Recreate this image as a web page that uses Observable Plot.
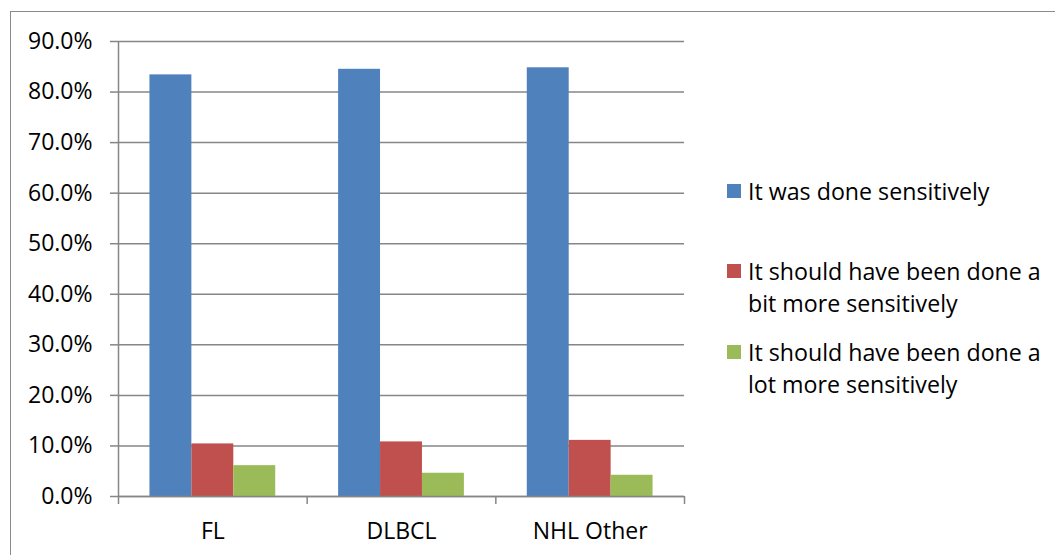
<!DOCTYPE html>
<html>
<head>
<meta charset="utf-8">
<script src="https://cdn.jsdelivr.net/npm/d3@7"></script>
<script src="https://cdn.jsdelivr.net/npm/@observablehq/plot@0.6"></script>
<style>
  html, body { margin: 0; padding: 0; background: #fff; }
  #wrap { position: relative; width: 1055px; height: 555px; overflow: hidden; font-family: "Open Sans", sans-serif; }
  #frame { position: absolute; left: 10px; top: 11px; right: -5px; bottom: -5px; border-top: 1.5px solid #8a8a8a; border-left: 1.5px solid #8a8a8a; }
  #chart { position: absolute; left: 0; top: 0; }
  #legend { position: absolute; left: 727px; top: 175px; font-size: 23.2px; line-height: 32px; color: #000; }
  .item { display: flex; align-items: flex-start; }
  .sw { width: 14px; height: 14px; margin-top: 9px; margin-right: 7px; flex: none; }
  .txt { width: 305px; }
</style>
</head>
<body>
<div id="wrap">
  <div id="frame"></div>
  <div id="chart"></div>
  <div id="legend"></div>
</div>
<script>
const categories = ["FL", "DLBCL", "NHL Other"];
const seriesNames = [
  "It was done sensitively",
  "It should have been done a bit more sensitively",
  "It should have been done a lot more sensitively"
];
const doneSensitively = [0.834, 0.845, 0.848];
const bitMoreSensitively = [0.104, 0.108, 0.111];
const lotMoreSensitively = [0.061, 0.046, 0.042];
const seriesColors = ["#4F81BD", "#C0504D", "#9BBB59"];
const yTicks = [0, 0.1, 0.2, 0.3, 0.4, 0.5, 0.6, 0.7, 0.8, 0.9];

const seriesValues = [doneSensitively, bitMoreSensitively, lotMoreSensitively];
const barW = 2 / 9; // Excel gap width 150%
const rows = [];
categories.forEach((c, ci) => {
  seriesNames.forEach((s, si) => {
    const x1 = ci + 0.75 * barW + si * barW;
    rows.push({category: c, series: s, value: seriesValues[si][ci], x1, x2: x1 + barW});
  });
});
const boundaries = d3.range(categories.length + 1);
const centers = categories.map((c, i) => i + 0.5);
const gray = "#868686";

const chart = Plot.plot({
  width: 1055,
  height: 555,
  marginLeft: 118,
  marginRight: 371,
  marginTop: 41,
  marginBottom: 59,
  style: {fontFamily: "'Open Sans', sans-serif", fontSize: "23px", color: "#000", background: "transparent", overflow: "visible"},
  x: {type: "linear", domain: [0, categories.length], axis: null},
  y: {domain: [0, 0.9], axis: null},
  color: {domain: seriesNames, range: seriesColors},
  marks: [
    Plot.gridY(yTicks, {stroke: gray, strokeOpacity: 1, strokeWidth: 1.5}),
    Plot.rectY(rows, {x1: "x1", x2: "x2", y1: 0, y2: "value", fill: "series"}),
    Plot.ruleX([0], {y1: 0, y2: 0.9, stroke: gray, strokeWidth: 1.5}),
    Plot.ruleY([0], {stroke: gray, strokeWidth: 1.5}),
    Plot.axisY(yTicks, {tickSize: 8, tickPadding: 18, tickFormat: d3.format(".1%"), stroke: gray, strokeWidth: 1.5, label: null}),
    Plot.axisX(boundaries, {tickSize: 8, tickFormat: () => "", stroke: gray, strokeWidth: 1.5, label: null}),
    Plot.axisX(centers, {tickSize: 0, tickPadding: 26, tickFormat: (d) => categories[Math.round(d - 0.5)], label: null})
  ]
});
document.getElementById("chart").appendChild(chart);

const legend = document.getElementById("legend");
const gaps = [48, 17, 0];
seriesNames.forEach((s, i) => {
  const item = document.createElement("div");
  item.className = "item";
  item.style.marginBottom = gaps[i] + "px";
  const sw = document.createElement("div");
  sw.className = "sw";
  sw.style.background = seriesColors[i];
  const t = document.createElement("div");
  t.className = "txt";
  t.textContent = s;
  item.appendChild(sw);
  item.appendChild(t);
  legend.appendChild(item);
});
</script>
</body>
</html>
